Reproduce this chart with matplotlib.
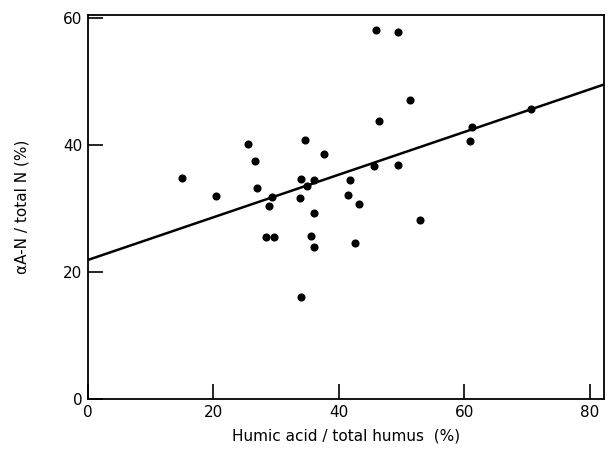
import matplotlib
matplotlib.use("Agg")
import matplotlib.pyplot as plt
import numpy as np

humic_pct = [15.0, 20.5, 25.5, 26.7, 27.0, 29.3, 28.9, 34.7, 37.6, 34.0, 35.0,
             36.1, 33.9, 36.0, 46.0, 49.4, 51.4, 46.4, 61.3, 61.0, 70.7, 45.7,
             49.4, 41.8, 41.5, 43.2, 53.0, 42.6, 28.4, 29.6, 35.5, 36.0, 34.0]
aan_pct = [34.8, 32.0, 40.1, 37.5, 33.2, 31.8, 30.3, 40.7, 38.5, 34.7, 33.6,
           34.5, 31.6, 29.2, 58.1, 57.8, 47.0, 43.8, 42.8, 40.6, 45.7, 36.7,
           36.8, 34.5, 32.1, 30.7, 28.2, 24.5, 25.5, 25.5, 25.7, 23.9, 16.0]
fit_intercept = 21.9
fit_slope = 0.335
x_ticks = [0, 20, 40, 60, 80]
y_ticks = [0, 20, 40, 60]

plt.rcParams['font.family'] = ['DejaVu Sans']
fig = plt.figure(figsize=(6.15, 4.5), dpi=100)
ax = fig.add_axes([0.143, 0.1127, 0.839, 0.854])

xmax = 82.3
ax.set_xlim(0, xmax)
ax.set_ylim(0, 60.4)

xl = np.array([0, xmax])
ax.plot(xl, fit_intercept + fit_slope * xl, color='black', lw=1.8, zorder=2)
ax.scatter(humic_pct, aan_pct, s=34, color='black', zorder=3, linewidths=0)

ax.set_xticks(x_ticks)
ax.set_yticks(y_ticks)
ax.tick_params(direction='in', length=11, width=1.2, labelsize=11, pad=4,
               colors='black')
for s in ax.spines.values():
    s.set_linewidth(1.3)

ax.set_xlabel('Humic acid / total humus  (%)', fontsize=11, labelpad=6)
ax.set_ylabel('αA-N / total N (%)', fontsize=11, labelpad=24)

fig.savefig('out.png', dpi=100)
